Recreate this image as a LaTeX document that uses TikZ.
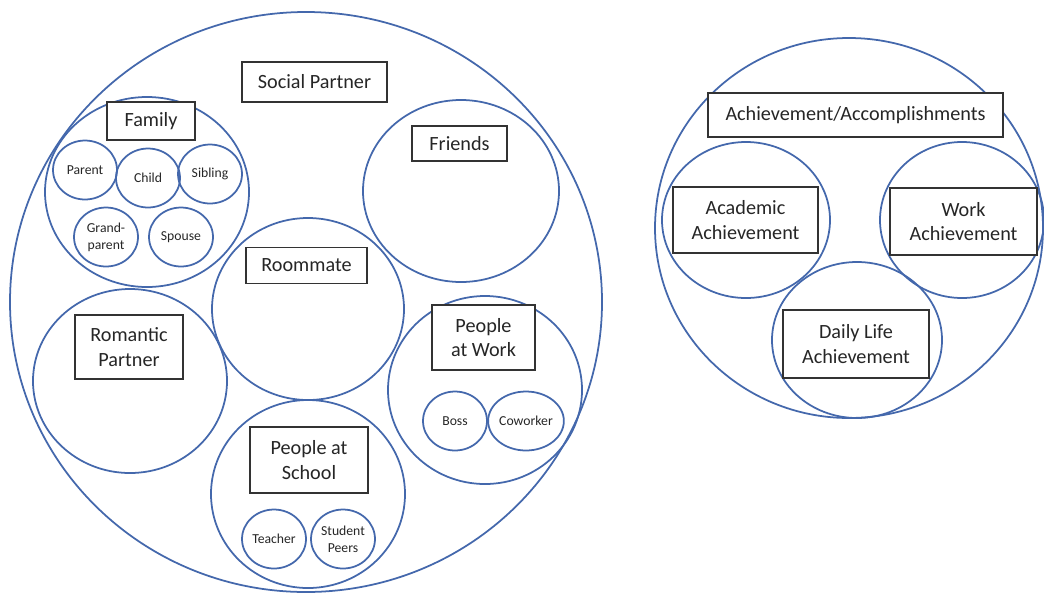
\documentclass[tikz,border=0pt]{standalone}
\usepackage{fontspec}
\setmainfont{Carlito}
\usetikzlibrary{shapes.geometric}
\definecolor{ringblue}{RGB}{68,104,172}

\begin{document}
\begin{tikzpicture}[x=0.02cm,y=-0.02cm,
  ring/.style={draw=ringblue,line width=1pt},
  tag/.style={draw=black!80,line width=1pt,fill=white,text=black!85,align=center,inner sep=0pt,font=\fontsize{11.5}{14}\selectfont},
  member/.style={ellipse,draw=ringblue,line width=1pt,inner sep=0pt,minimum width=1.28cm,minimum height=1.18cm,align=center,text=black!85,font=\fontsize{7.8}{9.5}\selectfont}]
\useasboundingbox (0,0) rectangle (1044,596);

% social partner rings
\draw[ring] (306,302) ellipse [x radius=296, y radius=290];
\draw[ring] (147,192) ellipse [x radius=102, y radius=95];
\draw[ring] (461,191) ellipse [x radius=98, y radius=91];
\draw[ring] (308,309) ellipse [x radius=96, y radius=91];
\draw[ring] (130,381) ellipse [x radius=97, y radius=92];
\draw[ring] (485,390) ellipse [x radius=97, y radius=94];
\draw[ring] (308,494) ellipse [x radius=97, y radius=94];

% family members
\node[member] (parent) at (85,170) {Parent};
\node[member] (child) at (148,178) {Child};
\node[member] (sibling) at (210,174) {Sibling};
\node[member] (grandparent) at (106,237) {Grand-\\parent};
\node[member] (spouse) at (181,237) {Spouse};

% work and school members
\node[member] (boss) at (455,421) {Boss};
\node[member] (coworker) at (526,421) {Coworker};
\node[member] (teacher) at (274,539) {Teacher};
\node[member] (peers) at (343,539) {Student\\Peers};

\node[tag,minimum width=2.9cm,minimum height=0.8cm] (social) at (314.5,82) {Social Partner};
\node[tag,minimum width=1.76cm,minimum height=0.76cm] (family) at (151,121) {Family};
\node[tag,minimum width=1.9cm,minimum height=0.7cm] (friends) at (459.5,143.5) {Friends};
\node[tag,minimum width=2.42cm,minimum height=0.72cm] (roommate) at (306.5,265.5) {Roommate};
\node[tag,minimum width=2.16cm,minimum height=1.28cm] (romantic) at (129,347) {Romantic\\Partner};
\node[tag,minimum width=2.06cm,minimum height=1.3cm] (atwork) at (483.5,337.5) {People\\at Work};
\node[tag,minimum width=2.36cm,minimum height=1.32cm] (atschool) at (309,460) {People at\\School};

% achievement rings
\draw[ring] (849,228) ellipse [x radius=194, y radius=190];
\draw[ring] (746,220) ellipse [x radius=84, y radius=78];
\draw[ring] (962,220) ellipse [x radius=82, y radius=78];
\draw[ring] (857,340) ellipse [x radius=85, y radius=78];

\node[tag,minimum width=5.9cm,minimum height=0.88cm] (achieve) at (855.5,115) {Achievement/Accomplishments};
\node[tag,minimum width=2.9cm,minimum height=1.32cm] (academic) at (745.5,220) {Academic\\Achievement};
\node[tag,minimum width=2.94cm,minimum height=1.34cm] (workach) at (963.5,221.5) {Work\\Achievement};
\node[tag,minimum width=2.92cm,minimum height=1.36cm] (daily) at (856,344) {Daily Life\\Achievement};

\end{tikzpicture}
\end{document}
